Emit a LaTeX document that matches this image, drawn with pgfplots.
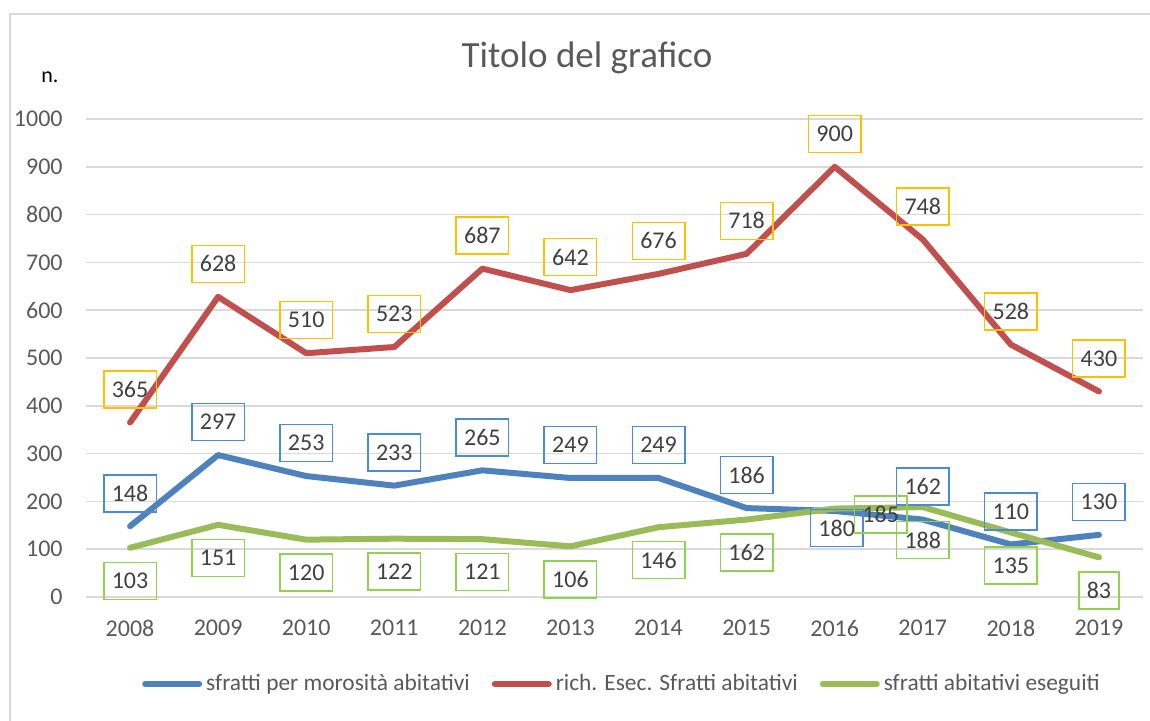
\documentclass[border=0pt]{standalone}
\usepackage{fontspec}
\setmainfont{Carlito}
\usepackage{pgfplots}
\usepackage{pgfplotstable}
\pgfplotsset{compat=1.18}
\definecolor{lblue}{HTML}{4F81BD}
\definecolor{lred}{HTML}{C0504D}
\definecolor{lgreen}{HTML}{9BBB59}
\definecolor{bblue}{HTML}{4A8AD6}
\definecolor{bgold}{HTML}{FFC000}
\definecolor{bgreen}{HTML}{92D050}
\definecolor{gridc}{HTML}{D9D9D9}
\definecolor{tickc}{HTML}{595959}
\definecolor{lblc}{HTML}{404040}

\pgfplotstableread{
x y
0 148
1 297
2 253
3 233
4 265
5 249
6 249
7 186
8 180
9 162
10 110
11 130
}\bluedata

\pgfplotstableread{
x y
0 365
1 628
2 510
3 523
4 687
5 642
6 676
7 718
8 900
9 748
10 528
11 430
}\reddata

\pgfplotstableread{
x y
0 103
1 151
2 120
3 122
4 121
5 106
6 146
7 162
8 185
9 188
10 135
11 83
}\greendata

\pgfplotsset{
  lbl/.style n args={3}{draw=none, forget plot, nodes near coords, point meta=y,
    every node near coord/.append style={anchor=center, draw=#1, line width=0.75pt,
      font=\fontsize{12}{14}\selectfont, text=lblc, inner xsep=4pt, inner ysep=0pt,
      minimum height=18.5pt, xshift=#2, yshift=#3}},
  ln/.style={color=#1, line width=3pt, line join=round, line cap=round, forget plot}
}

\begin{document}
\begin{tikzpicture}
\useasboundingbox (0,0) rectangle (575pt,360pt);
\draw[gridc, line width=0.75pt] (5pt,-5pt) -- (5pt,353pt) -- (580pt,353pt);
\node[font=\fontsize{18.5}{22}\selectfont, text=tickc] at (293.5pt,331pt) {Titolo del grafico};
\node[font=\fontsize{11}{13}\selectfont, text=black] at (25pt,321.5pt) {n.};
\begin{axis}[
  at={(43pt,61.5pt)}, anchor=south west,
  width=528.5pt, height=239pt, scale only axis,
  xmin=-0.5, xmax=11.5, ymin=0, ymax=1000,
  clip=false,
  xtick={0,...,11},
  xticklabels={2008,2009,2010,2011,2012,2013,2014,2015,2016,2017,2018,2019},
  ytick={0,100,...,1000},
  major tick length=0pt,
  axis line style={draw=none},
  ymajorgrids,
  grid style={color=gridc, line width=0.75pt},
  /pgf/number format/assume math mode=true,
  /pgf/number format/1000 sep={},
  tick label style={font=\fontsize{12}{14}\selectfont, text=tickc},
  yticklabel style={anchor=east, inner sep=0pt, xshift=-11.5pt},
  xticklabel style={anchor=north, inner sep=0pt, yshift=-11.5pt},
  legend style={at={(0.508,-0.182)}, anchor=center, draw=none, fill=none,
    font=\fontsize{11.7}{14}\selectfont, text=tickc,
    legend columns=3, cells={anchor=west},
    /tikz/every even column/.append style={column sep=9pt}},
  legend image code/.code={\draw[#1, line width=3pt, line cap=round] (0pt,0pt) -- (27pt,0pt);},
]
\addplot[ln=lblue] table[x=x,y=y] {\bluedata};
\addplot[ln=lred] table[x=x,y=y] {\reddata};
\addplot[ln=lgreen] table[x=x,y=y] {\greendata};
% blue labels
\addplot[lbl={bblue}{0pt}{16.5pt}, skip coords between index={8}{9}] table[x=x,y=y] {\bluedata};
\addplot[lbl={bblue}{1pt}{-8.5pt}, skip coords between index={0}{8}, skip coords between index={9}{12}] table[x=x,y=y] {\bluedata};
% red labels
\addplot[lbl={bgold}{0pt}{16.5pt}] table[x=x,y=y] {\reddata};
% green labels
\addplot[lbl={bgreen}{0pt}{-16.5pt}, skip coords between index={8}{9}] table[x=x,y=y] {\greendata};
\addplot[lbl={bgreen}{23pt}{-3pt}, skip coords between index={0}{8}, skip coords between index={9}{12}] table[x=x,y=y] {\greendata};
\addlegendimage{color=lblue}
\addlegendentry{sfratti per morosità abitativi}
\addlegendimage{color=lred}
\addlegendentry{rich. Esec. Sfratti abitativi}
\addlegendimage{color=lgreen}
\addlegendentry{sfratti abitativi eseguiti}
\end{axis}
\end{tikzpicture}
\end{document}
